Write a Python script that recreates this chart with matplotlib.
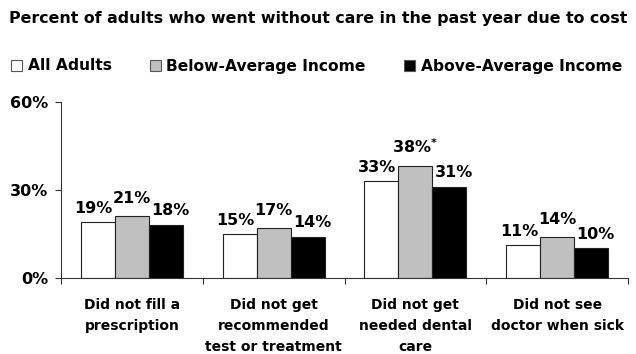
import numpy as np
import matplotlib
matplotlib.use('Agg')
from matplotlib import pyplot as plt
from matplotlib.patches import Patch

plt.rcParams['font.family'] = ['DejaVu Sans']
plt.rcParams['font.weight'] = 'bold'

# Data
categories = ['Did not fill a\nprescription',
              'Did not get\nrecommended\ntest or treatment',
              'Did not get\nneeded dental\ncare',
              'Did not see\ndoctor when sick']
series_names = ['All Adults', 'Below-Average Income', 'Above-Average Income']
all_adults = [19, 15, 33, 11]
below_avg = [21, 17, 38, 14]
above_avg = [18, 14, 31, 10]
below_marks = ['', '', '*', '']
yticks = [0, 30, 60]

colors = ['white', '#c0c0c0', 'black']
values = [all_adults, below_avg, above_avg]
label_pad = [2.0, 3.4, 2.2]

fig = plt.figure(figsize=(6.36, 3.54), dpi=100)
ax = fig.add_axes([61 / 636, 1 - 277.5 / 354, (628 - 61) / 636, (277.5 - 102) / 354])

x = np.arange(len(categories))
w = 0.24
for i, (vals, c) in enumerate(zip(values, colors)):
    pos = x + (i - 1) * w
    ax.bar(pos, vals, width=w, color=c, edgecolor='#222222', linewidth=0.8)
    for j, (p, v) in enumerate(zip(pos, vals)):
        txt = f'{v}%'
        if i == 1 and below_marks[j]:
            txt = f'{v}%$^{{{below_marks[j]}}}$'
        ax.text(p + (i - 1) * 0.03, v + label_pad[i], txt, ha='center', va='bottom',
                fontsize=11.5, fontweight='bold')

ax.set_xlim(-0.5, len(categories) - 0.5)
ax.set_ylim(0, 60)
ax.set_yticks(yticks)
ax.set_yticklabels([f'{t}%' for t in yticks], fontsize=11.5, fontweight='bold')
ax.set_xticks(x)
ax.set_xticklabels(categories, fontsize=10, fontweight='bold', linespacing=1.6)
ax.tick_params(axis='x', length=0, pad=15)
ax.tick_params(axis='y', length=4.3, width=0.8, pad=5, color='#333333')
# category separators along the x axis
ax.set_xticks(np.arange(len(categories) + 1) - 0.5, minor=True)
ax.tick_params(axis='x', which='minor', length=4, width=0.8, direction='out', color='#333333')

for s in ['top', 'right']:
    ax.spines[s].set_visible(False)
for s in ['left', 'bottom']:
    ax.spines[s].set_linewidth(0.8)
    ax.spines[s].set_color('#333333')

fig.text(9 / 636, 1 - 18 / 354, 'Percent of adults who went without care in the past year due to cost',
         fontsize=11.4, fontweight='bold', ha='left', va='center')

handles = [Patch(facecolor=c, edgecolor='#555555', linewidth=0.8) for c in colors]
fig.legend(handles, series_names, loc='center left', bbox_to_anchor=(11 / 636, 1 - 66 / 354),
           ncol=3, frameon=False, fontsize=11.2, handlelength=0.72, handleheight=0.72,
           handletextpad=0.35, columnspacing=2.45, borderaxespad=0, borderpad=0)

plt.savefig('out.png', dpi=100)
